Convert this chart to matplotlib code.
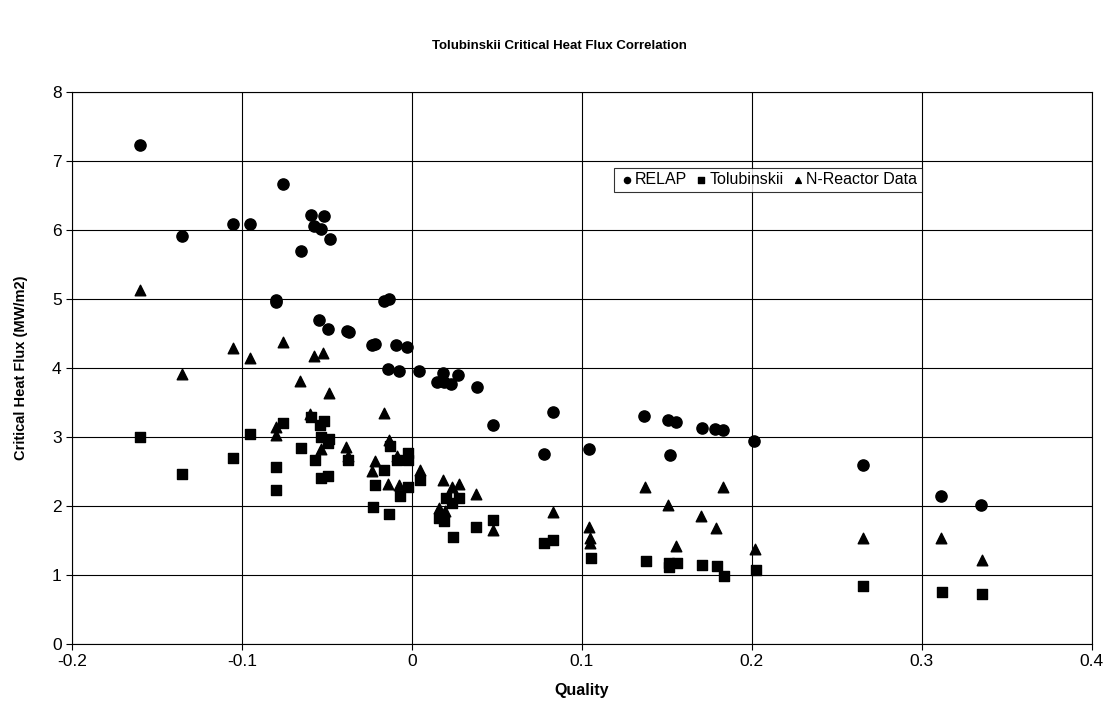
import matplotlib
matplotlib.use("Agg")
import matplotlib.pyplot as plt

relap_x = [-0.160, -0.135, -0.105, -0.095, -0.080, -0.080, -0.076, -0.065, -0.0596, -0.0575,
           -0.0535, -0.052, -0.0484, -0.0545, -0.0496, -0.038, -0.037, -0.0235, -0.0218, -0.0165,
           -0.0133, -0.0143, -0.0094, -0.0076, -0.0029, 0.0043, 0.0147, 0.0182, 0.019, 0.0229,
           0.0271, 0.0382, 0.0478, 0.0776, 0.0831, 0.1045, 0.1365, 0.1506, 0.1518, 0.1555,
           0.1706, 0.1786, 0.1831, 0.2015, 0.2653, 0.3114, 0.3352]
relap_y = [7.23, 5.91, 6.08, 6.09, 4.99, 4.95, 6.67, 5.70, 6.22, 6.06,
           6.02, 6.20, 5.87, 4.69, 4.56, 4.54, 4.52, 4.33, 4.35, 4.97,
           5.00, 3.98, 4.33, 3.95, 4.31, 3.96, 3.80, 3.92, 3.80, 3.76,
           3.90, 3.73, 3.17, 2.75, 3.36, 2.82, 3.30, 3.25, 2.74, 3.22,
           3.13, 3.12, 3.10, 2.94, 2.60, 2.14, 2.01]

tolu_x = [-0.160, -0.135, -0.105, -0.095, -0.080, -0.080, -0.0757, -0.0653, -0.0594, -0.057,
          -0.0541, -0.0516, -0.0533, -0.0486, -0.0496, -0.0537, -0.0496, -0.0375, -0.0231, -0.0216,
          -0.0163, -0.0135, -0.013, -0.0069, -0.0088, -0.0022, -0.0022, -0.002, 0.0049, 0.0157,
          0.019, 0.020, 0.0239, 0.0243, 0.0278, 0.038, 0.0478, 0.0778, 0.0833, 0.1053,
          0.1375, 0.1516, 0.1516, 0.1563, 0.171, 0.1798, 0.1837, 0.2023, 0.2656, 0.312, 0.3357]
tolu_y = [3.00, 2.46, 2.70, 3.04, 2.57, 2.23, 3.20, 2.84, 3.29, 2.66,
          3.17, 3.23, 3.00, 2.97, 2.91, 2.41, 2.43, 2.67, 1.99, 2.30,
          2.52, 1.88, 2.87, 2.14, 2.66, 2.77, 2.67, 2.28, 2.38, 1.82,
          1.78, 2.12, 2.05, 1.55, 2.12, 1.70, 1.80, 1.47, 1.50, 1.25,
          1.20, 1.18, 1.12, 1.17, 1.15, 1.13, 0.98, 1.07, 0.84, 0.76, 0.73]

nr_x = [-0.160, -0.135, -0.105, -0.095, -0.080, -0.080, -0.076, -0.0657, -0.0598, -0.0575,
        -0.0524, -0.0535, -0.0486, -0.0386, -0.0375, -0.0237, -0.0216, -0.0165, -0.0133, -0.0139,
        -0.0088, -0.0073, 0.0045, 0.0157, 0.0186, 0.0196, 0.0239, 0.0278, 0.038, 0.0478,
        0.0833, 0.1045, 0.105, 0.105, 0.137, 0.151, 0.1557, 0.1704, 0.1792, 0.1833,
        0.2019, 0.2656, 0.3116, 0.3354]
nr_y = [5.13, 3.91, 4.29, 4.14, 3.14, 3.03, 4.37, 3.81, 3.33, 4.17,
        4.21, 2.82, 3.63, 2.85, 2.73, 2.50, 2.65, 3.34, 2.95, 2.32,
        2.73, 2.31, 2.52, 1.97, 2.37, 1.93, 2.28, 2.32, 2.17, 1.65,
        1.91, 1.70, 1.53, 1.46, 2.28, 2.02, 1.42, 1.86, 1.68, 2.27,
        1.38, 1.54, 1.54, 1.22]

x_ticks = [-0.2, -0.1, 0, 0.1, 0.2, 0.3, 0.4]
x_ticklabels = ["-0.2", "-0.1", "0", "0.1", "0.2", "0.3", "0.4"]
y_ticks = [0, 1, 2, 3, 4, 5, 6, 7, 8]

plt.rcParams['font.family'] = ['Liberation Sans', 'DejaVu Sans']

fig = plt.figure(figsize=(11.15, 7.12), dpi=100)
ax = fig.add_axes([0.0646, 0.0955, 0.9144, 0.7755])

ax.scatter(relap_x, relap_y, marker='o', s=65, color='black', label='RELAP', zorder=3)
ax.scatter(tolu_x, tolu_y, marker='s', s=52, color='black', label='Tolubinskii', zorder=3)
ax.scatter(nr_x, nr_y, marker='^', s=58, color='black', label='N-Reactor Data', zorder=3)

ax.set_xlim(-0.2, 0.4)
ax.set_ylim(0, 8)
ax.set_xticks(x_ticks)
ax.set_xticklabels(x_ticklabels)
ax.set_yticks(y_ticks)
ax.tick_params(labelsize=12.5, length=4, width=0.8, color='black')
ax.grid(True, color='black', linewidth=0.8)
ax.set_axisbelow(True)
for sp in ax.spines.values():
    sp.set_color('black')
    sp.set_linewidth(0.8)

ax.set_xlabel('Quality', fontsize=11.5, fontweight='bold', labelpad=10)
ax.set_ylabel('Critical Heat Flux (MW/m2)', fontsize=10.5, fontweight='bold', labelpad=17)
fig.text(0.502, 0.935, 'Tolubinskii Critical Heat Flux Correlation', ha='center', va='center',
         fontsize=9.5, fontweight='bold')

leg = ax.legend(loc='center', bbox_to_anchor=(0.6887, 0.7474), bbox_transform=fig.transFigure,
                ncol=3, fontsize=11.5, frameon=True, fancybox=False, edgecolor='black',
                handletextpad=0.0, columnspacing=0.4, borderpad=0.3, markerscale=0.55,
                handlelength=1.0)
leg.get_frame().set_linewidth(0.8)

fig.savefig('out.png', dpi=100, facecolor='white')
